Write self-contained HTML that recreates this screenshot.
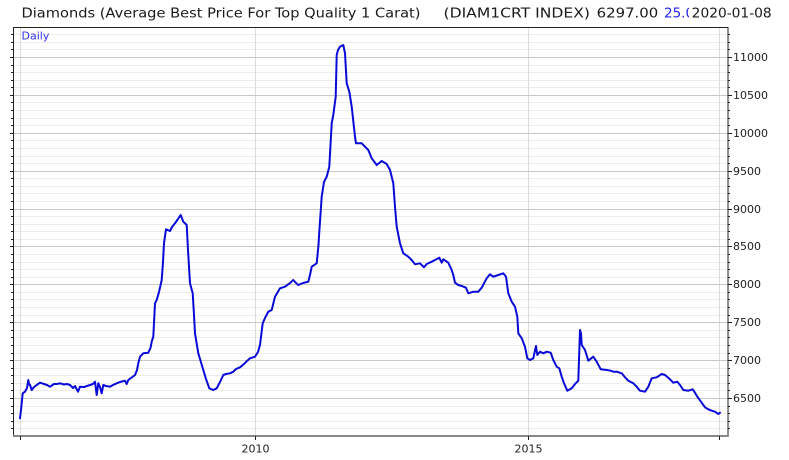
<!DOCTYPE html>
<html><head><meta charset="utf-8"><style>
html,body{margin:0;padding:0;background:#fff;}
svg{display:block;}
text{font-family:"DejaVu Sans","Liberation Sans",sans-serif;}
</style></head><body>
<svg width="789" height="460" viewBox="0 0 789 460" xmlns="http://www.w3.org/2000/svg">
<rect width="789" height="460" fill="#fff"/>
<!-- minor grid -->
<g stroke="#ececec" stroke-width="1">
<line x1="14" x2="728" y1="34.5" y2="34.5"/><line x1="14" x2="728" y1="42.5" y2="42.5"/><line x1="14" x2="728" y1="49.5" y2="49.5"/>
<line x1="14" x2="728" y1="65.5" y2="65.5"/><line x1="14" x2="728" y1="72.5" y2="72.5"/><line x1="14" x2="728" y1="80.5" y2="80.5"/><line x1="14" x2="728" y1="87.5" y2="87.5"/>
<line x1="14" x2="728" y1="102.5" y2="102.5"/><line x1="14" x2="728" y1="110.5" y2="110.5"/><line x1="14" x2="728" y1="118.5" y2="118.5"/><line x1="14" x2="728" y1="125.5" y2="125.5"/>
<line x1="14" x2="728" y1="140.5" y2="140.5"/><line x1="14" x2="728" y1="148.5" y2="148.5"/><line x1="14" x2="728" y1="156.5" y2="156.5"/><line x1="14" x2="728" y1="163.5" y2="163.5"/>
<line x1="14" x2="728" y1="178.5" y2="178.5"/><line x1="14" x2="728" y1="186.5" y2="186.5"/><line x1="14" x2="728" y1="193.5" y2="193.5"/><line x1="14" x2="728" y1="201.5" y2="201.5"/>
<line x1="14" x2="728" y1="216.5" y2="216.5"/><line x1="14" x2="728" y1="224.5" y2="224.5"/><line x1="14" x2="728" y1="231.5" y2="231.5"/><line x1="14" x2="728" y1="239.5" y2="239.5"/>
<line x1="14" x2="728" y1="254.5" y2="254.5"/><line x1="14" x2="728" y1="262.5" y2="262.5"/><line x1="14" x2="728" y1="269.5" y2="269.5"/><line x1="14" x2="728" y1="277.5" y2="277.5"/>
<line x1="14" x2="728" y1="292.5" y2="292.5"/><line x1="14" x2="728" y1="299.5" y2="299.5"/><line x1="14" x2="728" y1="307.5" y2="307.5"/><line x1="14" x2="728" y1="315.5" y2="315.5"/>
<line x1="14" x2="728" y1="330.5" y2="330.5"/><line x1="14" x2="728" y1="337.5" y2="337.5"/><line x1="14" x2="728" y1="345.5" y2="345.5"/><line x1="14" x2="728" y1="353.5" y2="353.5"/>
<line x1="14" x2="728" y1="368.5" y2="368.5"/><line x1="14" x2="728" y1="375.5" y2="375.5"/><line x1="14" x2="728" y1="383.5" y2="383.5"/><line x1="14" x2="728" y1="390.5" y2="390.5"/>
<line x1="14" x2="728" y1="406.5" y2="406.5"/><line x1="14" x2="728" y1="413.5" y2="413.5"/><line x1="14" x2="728" y1="421.5" y2="421.5"/><line x1="14" x2="728" y1="428.5" y2="428.5"/>
</g>
<!-- vertical grid -->
<g stroke="#dcdcdc" stroke-width="1">
<line x1="20.5" x2="20.5" y1="28" y2="435"/>
<line x1="255.5" x2="255.5" y1="28" y2="435"/>
<line x1="528.5" x2="528.5" y1="28" y2="435"/>
<line x1="719.5" x2="719.5" y1="28" y2="435"/>
</g>
<!-- major grid -->
<g stroke="#c8c8c8" stroke-width="1">
<line x1="14" x2="728" y1="57.5" y2="57.5"/>
<line x1="14" x2="728" y1="95.5" y2="95.5"/>
<line x1="14" x2="728" y1="133.5" y2="133.5"/>
<line x1="14" x2="728" y1="171.5" y2="171.5"/>
<line x1="14" x2="728" y1="209.5" y2="209.5"/>
<line x1="14" x2="728" y1="246.5" y2="246.5"/>
<line x1="14" x2="728" y1="284.5" y2="284.5"/>
<line x1="14" x2="728" y1="322.5" y2="322.5"/>
<line x1="14" x2="728" y1="360.5" y2="360.5"/>
<line x1="14" x2="728" y1="398.5" y2="398.5"/>
</g>
<!-- left ticks -->
<g stroke="#222" stroke-width="1">
<line x1="11" x2="13" y1="34.5" y2="34.5"/><line x1="11" x2="13" y1="42.5" y2="42.5"/><line x1="11" x2="13" y1="49.5" y2="49.5"/><line x1="10" x2="13" y1="57.5" y2="57.5"/>
<line x1="11" x2="13" y1="65.5" y2="65.5"/><line x1="11" x2="13" y1="72.5" y2="72.5"/><line x1="11" x2="13" y1="80.5" y2="80.5"/><line x1="11" x2="13" y1="87.5" y2="87.5"/><line x1="10" x2="13" y1="95.5" y2="95.5"/>
<line x1="11" x2="13" y1="102.5" y2="102.5"/><line x1="11" x2="13" y1="110.5" y2="110.5"/><line x1="11" x2="13" y1="118.5" y2="118.5"/><line x1="11" x2="13" y1="125.5" y2="125.5"/><line x1="10" x2="13" y1="133.5" y2="133.5"/>
<line x1="11" x2="13" y1="140.5" y2="140.5"/><line x1="11" x2="13" y1="148.5" y2="148.5"/><line x1="11" x2="13" y1="156.5" y2="156.5"/><line x1="11" x2="13" y1="163.5" y2="163.5"/><line x1="10" x2="13" y1="171.5" y2="171.5"/>
<line x1="11" x2="13" y1="178.5" y2="178.5"/><line x1="11" x2="13" y1="186.5" y2="186.5"/><line x1="11" x2="13" y1="193.5" y2="193.5"/><line x1="11" x2="13" y1="201.5" y2="201.5"/><line x1="10" x2="13" y1="209.5" y2="209.5"/>
<line x1="11" x2="13" y1="216.5" y2="216.5"/><line x1="11" x2="13" y1="224.5" y2="224.5"/><line x1="11" x2="13" y1="231.5" y2="231.5"/><line x1="11" x2="13" y1="239.5" y2="239.5"/><line x1="10" x2="13" y1="246.5" y2="246.5"/>
<line x1="11" x2="13" y1="254.5" y2="254.5"/><line x1="11" x2="13" y1="262.5" y2="262.5"/><line x1="11" x2="13" y1="269.5" y2="269.5"/><line x1="11" x2="13" y1="277.5" y2="277.5"/><line x1="10" x2="13" y1="284.5" y2="284.5"/>
<line x1="11" x2="13" y1="292.5" y2="292.5"/><line x1="11" x2="13" y1="299.5" y2="299.5"/><line x1="11" x2="13" y1="307.5" y2="307.5"/><line x1="11" x2="13" y1="315.5" y2="315.5"/><line x1="10" x2="13" y1="322.5" y2="322.5"/>
<line x1="11" x2="13" y1="330.5" y2="330.5"/><line x1="11" x2="13" y1="337.5" y2="337.5"/><line x1="11" x2="13" y1="345.5" y2="345.5"/><line x1="11" x2="13" y1="353.5" y2="353.5"/><line x1="10" x2="13" y1="360.5" y2="360.5"/>
<line x1="11" x2="13" y1="368.5" y2="368.5"/><line x1="11" x2="13" y1="375.5" y2="375.5"/><line x1="11" x2="13" y1="383.5" y2="383.5"/><line x1="11" x2="13" y1="390.5" y2="390.5"/><line x1="10" x2="13" y1="398.5" y2="398.5"/>
<line x1="11" x2="13" y1="406.5" y2="406.5"/><line x1="11" x2="13" y1="413.5" y2="413.5"/><line x1="11" x2="13" y1="421.5" y2="421.5"/><line x1="11" x2="13" y1="428.5" y2="428.5"/>
</g>
<!-- right ticks -->
<g stroke="#222" stroke-width="1">
<line x1="728" x2="730" y1="34.5" y2="34.5"/><line x1="728" x2="730" y1="42.5" y2="42.5"/><line x1="728" x2="730" y1="49.5" y2="49.5"/><line x1="728" x2="732" y1="57.5" y2="57.5"/>
<line x1="728" x2="730" y1="65.5" y2="65.5"/><line x1="728" x2="730" y1="72.5" y2="72.5"/><line x1="728" x2="730" y1="80.5" y2="80.5"/><line x1="728" x2="730" y1="87.5" y2="87.5"/><line x1="728" x2="732" y1="95.5" y2="95.5"/>
<line x1="728" x2="730" y1="102.5" y2="102.5"/><line x1="728" x2="730" y1="110.5" y2="110.5"/><line x1="728" x2="730" y1="118.5" y2="118.5"/><line x1="728" x2="730" y1="125.5" y2="125.5"/><line x1="728" x2="732" y1="133.5" y2="133.5"/>
<line x1="728" x2="730" y1="140.5" y2="140.5"/><line x1="728" x2="730" y1="148.5" y2="148.5"/><line x1="728" x2="730" y1="156.5" y2="156.5"/><line x1="728" x2="730" y1="163.5" y2="163.5"/><line x1="728" x2="732" y1="171.5" y2="171.5"/>
<line x1="728" x2="730" y1="178.5" y2="178.5"/><line x1="728" x2="730" y1="186.5" y2="186.5"/><line x1="728" x2="730" y1="193.5" y2="193.5"/><line x1="728" x2="730" y1="201.5" y2="201.5"/><line x1="728" x2="732" y1="209.5" y2="209.5"/>
<line x1="728" x2="730" y1="216.5" y2="216.5"/><line x1="728" x2="730" y1="224.5" y2="224.5"/><line x1="728" x2="730" y1="231.5" y2="231.5"/><line x1="728" x2="730" y1="239.5" y2="239.5"/><line x1="728" x2="732" y1="246.5" y2="246.5"/>
<line x1="728" x2="730" y1="254.5" y2="254.5"/><line x1="728" x2="730" y1="262.5" y2="262.5"/><line x1="728" x2="730" y1="269.5" y2="269.5"/><line x1="728" x2="730" y1="277.5" y2="277.5"/><line x1="728" x2="732" y1="284.5" y2="284.5"/>
<line x1="728" x2="730" y1="292.5" y2="292.5"/><line x1="728" x2="730" y1="299.5" y2="299.5"/><line x1="728" x2="730" y1="307.5" y2="307.5"/><line x1="728" x2="730" y1="315.5" y2="315.5"/><line x1="728" x2="732" y1="322.5" y2="322.5"/>
<line x1="728" x2="730" y1="330.5" y2="330.5"/><line x1="728" x2="730" y1="337.5" y2="337.5"/><line x1="728" x2="730" y1="345.5" y2="345.5"/><line x1="728" x2="730" y1="353.5" y2="353.5"/><line x1="728" x2="732" y1="360.5" y2="360.5"/>
<line x1="728" x2="730" y1="368.5" y2="368.5"/><line x1="728" x2="730" y1="375.5" y2="375.5"/><line x1="728" x2="730" y1="383.5" y2="383.5"/><line x1="728" x2="730" y1="390.5" y2="390.5"/><line x1="728" x2="732" y1="398.5" y2="398.5"/>
<line x1="728" x2="730" y1="406.5" y2="406.5"/><line x1="728" x2="730" y1="413.5" y2="413.5"/><line x1="728" x2="730" y1="421.5" y2="421.5"/><line x1="728" x2="730" y1="428.5" y2="428.5"/>
</g>
<!-- borders -->
<line x1="13" x2="728.5" y1="27.5" y2="27.5" stroke="#222" stroke-width="1"/>
<line x1="13.5" x2="13.5" y1="27" y2="437" stroke="#222" stroke-width="1"/>
<line x1="728" x2="728" y1="27" y2="437" stroke="#222" stroke-width="1"/>
<line x1="13" x2="728" y1="436" y2="436" stroke="#888" stroke-width="2"/>
<!-- bottom ticks -->
<g stroke="#222" stroke-width="1">
<line x1="20.5" x2="20.5" y1="436" y2="440"/>
<line x1="255.5" x2="255.5" y1="436" y2="440"/>
<line x1="528.5" x2="528.5" y1="436" y2="440"/>
<line x1="719.5" x2="719.5" y1="436" y2="440"/>
</g>
<!-- y labels -->
<g font-size="11" fill="#222">
<text x="733" y="61">11000</text>
<text x="733" y="99">10500</text>
<text x="733" y="137">10000</text>
<text x="733" y="175">9500</text>
<text x="733" y="213">9000</text>
<text x="733" y="250">8500</text>
<text x="733" y="288">8000</text>
<text x="733" y="326">7500</text>
<text x="733" y="364">7000</text>
<text x="733" y="402">6500</text>
</g>
<g font-size="11" fill="#222" text-anchor="middle">
<text x="255.5" y="452.5">2010</text>
<text x="528.5" y="452.5">2015</text>
</g>
<!-- Daily -->
<text x="21.5" y="39.5" font-size="11" fill="#3333ee">Daily</text>
<!-- series -->
<polyline fill="none" stroke="#0a0ad8" stroke-width="2" stroke-linejoin="round" stroke-linecap="round" points="
20,418.3 21,410 22.7,393.3 25,391.7 27,388 28.3,380 29,384 30,385 31.7,390 34,387 36.7,385 40,382.7 44,384 47,385 50,386.7 54,384 57,384 60,383.3 64,384.5 67,384 70,385 73,388 75,386 78,391.7 80,386.7 84,387 87,386 90,385 93,384 95,381.7 96.7,395 98.3,383.3 100,387 101.7,393.3 103.3,385 106,386 110,386.7 113,385 116.7,383.3 120,382 125,380.7 126.7,384 128.3,380 131,378 135,375 137,370 138.3,363.3 140,356.7 143.3,353.3 148.3,352.7 150.5,348 151.7,341.7 153.3,336.7 155,303.3 156.7,300 159,292 161.7,280 163,262 164,243.3 166,229.3 170,231 172,227 175,223.3 178,219 180.7,215 183.3,221.7 186.7,225 188,250 190,283.3 192.7,293.3 194,315 195,333.3 198.3,353.3 203.3,370 206,379 209.3,388.3 213.3,390 216.7,388.3 220,382 223.3,375 226,374 230,373.3 233.3,371.7 236,369 240,367.3 244,364 247,361 250,358.3 255,356.7 258,352 260,345 262.7,323.3 265,318 268.3,311.7 271.7,310 275,296.7 280,288.3 285,286.7 290,283 293.3,280 296,283 298.3,285 303,283 308.3,281.7 310,275 311.7,266.7 316.7,263.3 318.5,245 319.3,231.7 321.7,196.7 324,182 326.7,176.7 329.3,166.7 331.7,123.3 333.3,115 335.7,96.7 336.7,55 338,50 340,46.7 343.3,45 345,53.3 346.7,83.3 349.3,91.7 351.7,106.7 355,136.7 356,143.3 361.7,143.3 365,146.7 368.3,150 371.7,158.3 376.7,165 381.7,161 386.7,164 390,170 393.3,183.3 395,206.7 396.7,226.7 400,243.3 403.3,253.3 408.3,256.7 411.7,260 415,264.3 420,263.3 424,267.3 426.7,264 431.7,261.7 435,260 439.3,257.7 441.7,262.7 443.3,259.3 448.3,262.7 451.7,270 453.3,275 455,282.7 458.3,285 461.7,286 466,287.7 468.3,293.3 473.3,291.7 478.3,291.7 481.7,287.7 486.7,278.3 490,274.3 493.3,276.7 498.3,275 503.3,273.3 506,276.7 508.3,293.3 511.7,301.7 515,306.7 517.3,316.7 518.3,333.3 521.7,338.3 525,346.7 527.3,358.3 530,360 533.3,358.3 536,346 537.3,355 540,351.7 543.3,353.3 546.7,351.7 550.7,352.7 553.3,360 556.7,366.7 559.3,368.3 561.7,376.7 564,383.3 567.3,390.7 571.7,388.3 575,384 578.3,380.7 580,330 581,333.3 581.7,345 585,350 588.3,360.7 593.3,356.7 596.7,361.7 600.7,369.3 606.7,370 610.7,370.7 613.3,371.7 616.7,371.7 621.7,373.3 625,377.3 628.3,380.7 633.3,383.3 636.7,386.7 640,390.7 645,391.7 648.3,386.7 651.7,378.3 656.7,377.3 661.7,374 665,375 670,379.3 673.3,382.7 677.3,381.7 680,385 683.3,390 688.3,390.7 692.7,389.3 695,392.7 697.3,396.7 701.7,402.7 705,407.3 708.3,409.3 711.7,410.7 715,411.7 718.3,414 720,412.7"/>
<!-- title -->
<g font-size="13.5" fill="#1a1a1a">
<text x="21.5" y="17.5" textLength="399" lengthAdjust="spacingAndGlyphs">Diamonds (Average Best Price For Top Quality 1 Carat)</text>
<text x="443.5" y="17.5" textLength="146.5" lengthAdjust="spacingAndGlyphs">(DIAM1CRT INDEX)</text>
<text x="596.7" y="17.5" textLength="61.5" lengthAdjust="spacingAndGlyphs">6297.00</text>
<text x="664" y="17.5" fill="#2222ee">25.00</text>
</g>
<rect x="689" y="0" width="100" height="24" fill="#fff"/>
<text x="691.7" y="17.5" font-size="13.5" fill="#1a1a1a" textLength="80" lengthAdjust="spacingAndGlyphs">2020-01-08</text>
</svg>
</body></html>
